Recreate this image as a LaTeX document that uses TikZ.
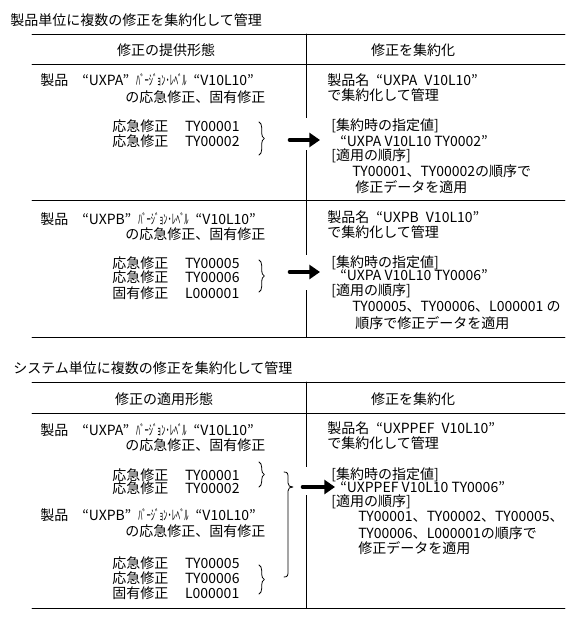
\documentclass[tikz,border=0pt]{standalone}
\usepackage{fontspec}
\setmainfont{Noto Sans CJK JP}
\usetikzlibrary{arrows.meta,decorations.pathreplacing,calc}
\tikzset{
  txt/.style={anchor=west,inner sep=0pt,font=\fontsize{10.5}{12}\selectfont},
  hdr/.style={inner sep=0pt,font=\fontsize{10.5}{12}\selectfont},
  rule/.style={line width=0.7pt},
  fatarrow/.style={line width=3.5pt,-{Triangle[length=8pt,width=10.5pt]}},
  brc/.style={decorate,decoration={brace,amplitude=4pt},line width=0.6pt},
  gap/.style={fill=white,draw=none}
}
\newcommand{\hw}{\scalebox{0.6}[1]{ﾊﾞｰｼﾞｮﾝ･ﾚﾍﾞﾙ}}
\begin{document}
\begin{tikzpicture}[x=0.75pt,y=-0.75pt,line cap=round,line join=round]
  \useasboundingbox (0,0) rectangle (585,623);
  % --- table 1
  \node[txt] (title1) at (10,20) {製品単位に複数の修正を集約化して管理};
  \draw[rule] (32,34) -- (565,34);
  \draw[rule] (32,64) -- (565,64);
  \draw[rule] (32,200) -- (565,200);
  \draw[rule] (32,337) -- (565,337);
  \draw[rule] (306,34) -- (306,337);
  \node[hdr] (h1l) at (166,50) {修正の提供形態};
  \node[hdr] (h1r) at (413,50) {修正を集約化};
  % row UXPA
  \node[txt] (pa1) at (40,80) {製品\quad“UXPA”\enspace\hw\enspace“V10L10”};
  \node[txt] (pa2) at (125,97) {の応急修正、固有修正};
  \node[txt] (pa3) at (112,126) {応急修正\hspace{1.2em}TY00001};
  \node[txt] (pa4) at (112,141) {応急修正\hspace{1.2em}TY00002};
  \coordinate (bra1t) at (259,122);
  \coordinate (bra1b) at (259,155);
  \draw[brc] (bra1t) -- (bra1b);
  \fill[gap] (300,118) rectangle (312,150);
  \coordinate (arr1s) at (290,140);
  \coordinate (arr1e) at (320,140);
  \draw[fatarrow] (arr1s) -- (arr1e);
  \node[txt] (ra1) at (327,80) {製品名\enspace“UXPA\enspace V10L10”};
  \node[txt] (ra2) at (327,95) {で集約化して管理};
  \node[txt] (ra3) at (331,126) {[集約時の指定値]};
  \node[txt] (ra4) at (340,141) {“UXPA V10L10 TY0002”};
  \node[txt] (ra5) at (331,156) {[適用の順序]};
  \node[txt] (ra6) at (352,171) {TY00001、TY00002の順序で};
  \node[txt] (ra7) at (355,187) {修正データを適用};
  % row UXPB
  \node[txt] (pb1) at (40,219) {製品\quad“UXPB”\enspace\hw\enspace“V10L10”};
  \node[txt] (pb2) at (125,234) {の応急修正、固有修正};
  \node[txt] (pb3) at (112,263) {応急修正\hspace{1.2em}TY00005};
  \node[txt] (pb4) at (112,277) {応急修正\hspace{1.2em}TY00006};
  \node[txt] (pb5) at (112,293) {固有修正\hspace{1.2em}L000001};
  \coordinate (bra2t) at (259,260);
  \coordinate (bra2b) at (259,292);
  \draw[brc] (bra2t) -- (bra2b);
  \fill[gap] (300,255) rectangle (312,290);
  \coordinate (arr2s) at (290,272);
  \coordinate (arr2e) at (320,272);
  \draw[fatarrow] (arr2s) -- (arr2e);
  \node[txt] (rb1) at (327,217) {製品名\enspace“UXPB\enspace V10L10”};
  \node[txt] (rb2) at (327,232) {で集約化して管理};
  \node[txt] (rb3) at (331,263) {[集約時の指定値]};
  \node[txt] (rb4) at (340,275) {“UXPA V10L10 TY0006”};
  \node[txt] (rb5) at (331,291) {[適用の順序]};
  \node[txt] (rb6) at (352,307) {TY00005、TY00006、L000001 の};
  \node[txt] (rb7) at (355,323) {順序で修正データを適用};
  % --- table 2
  \node[txt] (title2) at (13,368) {システム単位に複数の修正を集約化して管理};
  \draw[rule] (32,382) -- (565,382);
  \draw[rule] (32,413) -- (565,413);
  \draw[rule] (32,608) -- (565,608);
  \draw[rule] (306,382) -- (306,608);
  \node[hdr] (h2l) at (164,399) {修正の適用形態};
  \node[hdr] (h2r) at (413,399) {修正を集約化};
  \node[txt] (sa1) at (40,430) {製品\quad“UXPA”\enspace\hw\enspace“V10L10”};
  \node[txt] (sa2) at (125,445) {の応急修正、固有修正};
  \node[txt] (sa3) at (112,475) {応急修正\hspace{1.2em}TY00001};
  \node[txt] (sa4) at (112,488) {応急修正\hspace{1.2em}TY00002};
  \node[txt] (sb1) at (40,515) {製品\quad“UXPB”\enspace\hw\enspace“V10L10”};
  \node[txt] (sb2) at (125,531) {の応急修正、固有修正};
  \node[txt] (sb3) at (112,563) {応急修正\hspace{1.2em}TY00005};
  \node[txt] (sb4) at (112,578) {応急修正\hspace{1.2em}TY00006};
  \node[txt] (sb5) at (112,593) {固有修正\hspace{1.2em}L000001};
  \coordinate (bra3t) at (259,462);
  \coordinate (bra3b) at (259,487);
  \draw[brc] (bra3t) -- (bra3b);
  \coordinate (bra4t) at (259,565);
  \coordinate (bra4b) at (259,594);
  \draw[brc] (bra4t) -- (bra4b);
  % long brace, tip near its top
  \coordinate (bra5t) at (284,472);
  \coordinate (bra5m) at (293,487);
  \coordinate (bra5b) at (284,577);
  \draw[line width=0.6pt] (bra5t) .. controls (288,472) and (288,474) .. (288,478) -- (288,483)
    .. controls (288,486) and (290,487) .. (bra5m) .. controls (290,487) and (288,488) .. (288,491)
    -- (288,571) .. controls (288,575) and (288,577) .. (bra5b);
  \fill[gap] (300,467) rectangle (312,495);
  \coordinate (arr3s) at (303,487);
  \coordinate (arr3e) at (335,487);
  \draw[fatarrow] (arr3s) -- (arr3e);
  \node[txt] (rc1) at (327,428) {製品名\enspace“UXPPEF\enspace V10L10”};
  \node[txt] (rc2) at (327,443) {で集約化して管理};
  \node[txt] (rc3) at (331,475) {[集約時の指定値]};
  \node[txt] (rc4) at (340,487) {“UXPPEF V10L10 TY0006”};
  \node[txt] (rc5) at (331,502) {[適用の順序]};
  \node[txt] (rc6) at (358,517) {TY00001、TY00002、TY00005、};
  \node[txt] (rc7) at (358,533) {TY00006、L000001の順序で};
  \node[txt] (rc8) at (358,548) {修正データを適用};
\end{tikzpicture}
\end{document}
